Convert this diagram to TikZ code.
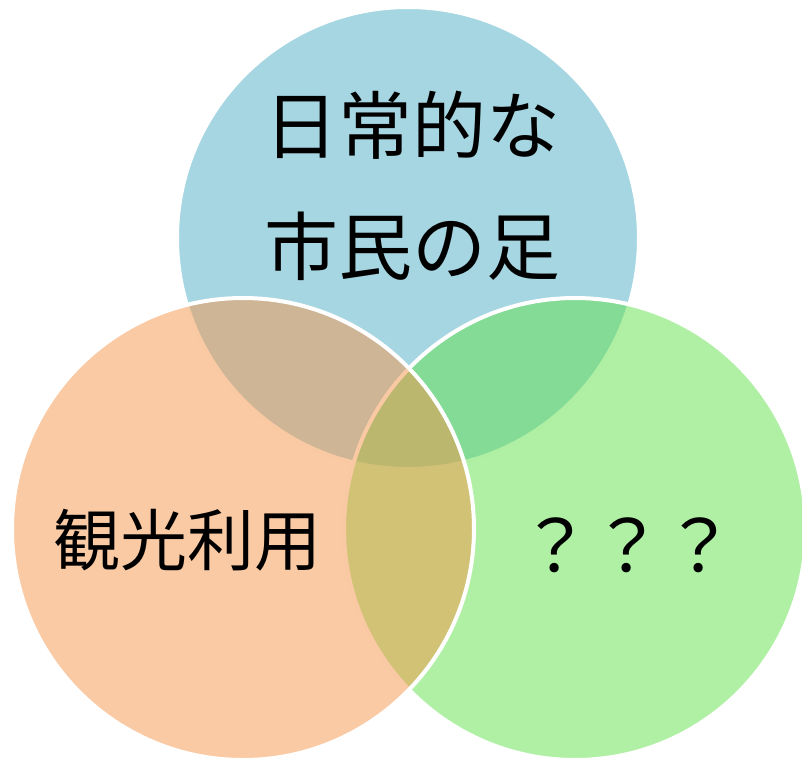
\documentclass[tikz,border=0pt]{standalone}
\usepackage{xcolor}
\usepackage{fontspec}
\newfontfamily\jpfont{Noto Sans CJK JP}
\definecolor{dailyblue}{RGB}{77,173,197}
\definecolor{tourorange}{RGB}{245,149,73}
\definecolor{othergreen}{RGB}{97,225,75}

\begin{document}
\begin{tikzpicture}[x=0.5pt,y=-0.5pt,every node/.style={shape=circle,align=center},
    ring/.style={draw=white,line width=2pt,fill opacity=0.5,minimum size=231pt,inner sep=0pt},
    tag/.style={shape=rectangle,inner sep=0pt,font=\jpfont\fontsize{36}{60.5}\selectfont,text=black}]
  \useasboundingbox (0,0) rectangle (802,761);
  \node[ring,fill=dailyblue] (daily) at (408,238) {};
  \node[ring,fill=othergreen] (other) at (575,529) {};
  \node[ring,fill=tourorange] (tour) at (243,529) {};
  \node[tag,font=\jpfont\fontsize{37}{60.5}\selectfont] (dailytext) at (412,186) {日常的な\\市民の足};
  \node[tag,font=\jpfont\fontsize{33.5}{40}\selectfont] (tourtext) at (187,540) {観光利用};
  \node[tag] (othertext) at (627,545) {？？？};
\end{tikzpicture}
\end{document}
